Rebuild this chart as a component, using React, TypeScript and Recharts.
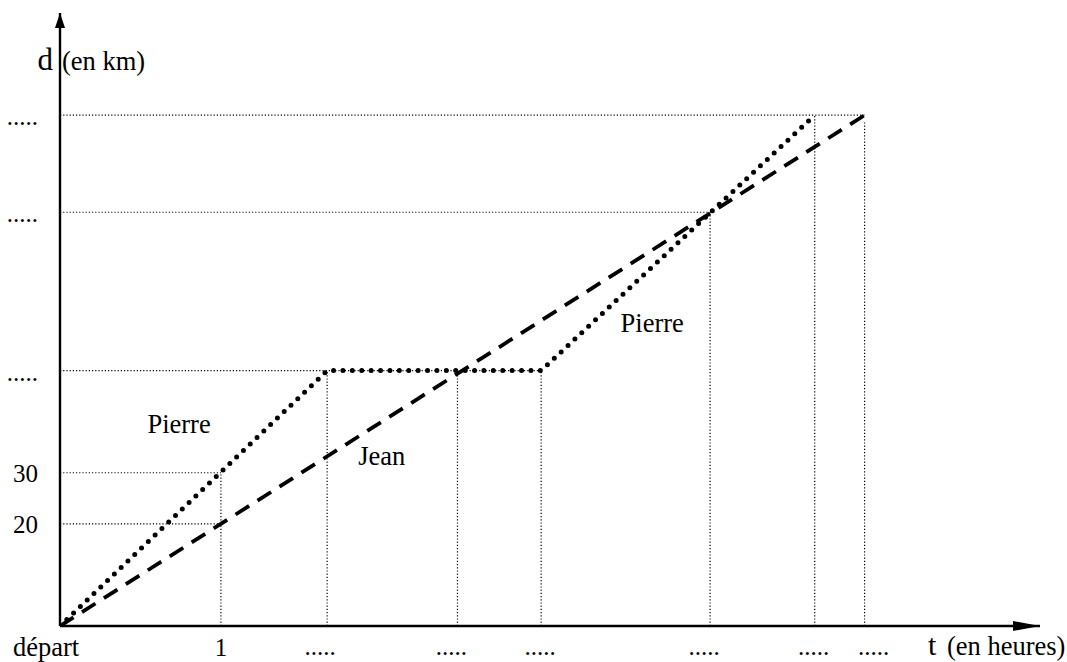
import React from "react";
import { ComposedChart, Line, XAxis, YAxis, ReferenceLine, ReferenceDot } from "recharts";

const FONT = "Liberation Serif, DejaVu Serif, Times New Roman, serif";

// trajets (t en heures, d en km)
const pierreT = [0, 1.66, 2.99, 4.69];
const pierreD = [0, 50, 50, 100];
const jeanT = [0, 5];
const jeanD = [0, 100];

// graduations
const tTicks = [0, 1, 1.66, 2.47, 2.99, 4.04, 4.69, 5];
const tTickLabels = ["départ", "1", ".....", ".....", ".....", ".....", ".....", "....."];
const dTicks = [20, 30, 50, 81, 100];
const dTickLabels = ["20", "30", ".....", ".....", "....."];

// pointillés de lecture : horizontales (d -> jusqu'à t) et verticales (t -> jusqu'à d)
const hGuideD = [20, 30, 50, 81, 100];
const hGuideT = [1, 1, 2.99, 4.04, 5];
const vGuideT = [1, 1.66, 2.47, 2.99, 4.04, 4.69, 5];
const vGuideD = [30, 50, 50, 50, 81, 100, 98.6];

// étiquettes des courbes
const noteText = ["Pierre", "Jean", "Pierre"];
const noteT = [0.74, 2.0, 3.68];
const noteD = [37.8, 31.5, 57.5];

const T_MAX = 6.09;
const D_MAX = 120;

const pierre = pierreT.map((t, i) => ({ t, d: pierreD[i] }));
const jean = jeanT.map((t, i) => ({ t, d: jeanD[i] }));

// petits décalages des étiquettes de l'axe t
const tTickDx = [-14, 0, -7, -6, -1, -6, -1, 9];

const txt = { fontFamily: FONT, fill: "#000" };
const WORD = 26.5;

const TTick = (props: any) => {
   const { x, y, payload } = props;
   const i = tTicks.indexOf(payload.value);
   if (i < 0) return null;
   const label = tTickLabels[i];
   const dots = label === ".....";
   return (
      <text x={x + tTickDx[i]} y={y + (dots ? 29 : 30)} textAnchor="middle" fontSize={i === 0 ? WORD : 25} style={txt} {...txt}>
         {label}
      </text>
   );
};

const DTick = (props: any) => {
   const { x, y, payload } = props;
   const i = dTicks.indexOf(payload.value);
   if (i < 0) return null;
   const label = dTickLabels[i];
   const dots = label === ".....";
   return (
      <text x={x - 22} y={y + (dots ? 10 : 9)} textAnchor="end" fontSize={25} style={txt} {...txt}>
         {label}
      </text>
   );
};

const ArrowX = (props: any) => {
   const { cx, cy } = props;
   return (
      <g>
         <polygon points={`${cx},${cy} ${cx - 27},${cy - 5} ${cx - 27},${cy + 5}`} fill="#000" />
         <text x={cx - 112} y={cy + 29} fontSize={30} style={txt} {...txt}>t</text>
         <text x={cx - 93} y={cy + 29} fontSize={WORD} style={txt} {...txt}>(en heures)</text>
      </g>
   );
};

const ArrowY = (props: any) => {
   const { cx, cy } = props;
   return (
      <g>
         <polygon points={`${cx},${cy} ${cx - 5},${cy + 15} ${cx + 5},${cy + 15}`} fill="#000" />
         <text x={cx - 7} y={cy + 57} textAnchor="end" fontSize={31} style={txt} {...txt}>d</text>
         <text x={cx + 2} y={cy + 57} fontSize={WORD} style={txt} {...txt}>(en km)</text>
      </g>
   );
};

const Note = (label: string) => (props: any) => (
   <text x={props.cx} y={props.cy} textAnchor="middle" fontSize={WORD} style={txt} {...txt}>
      {label}
   </text>
);

const guide = { stroke: "#000", strokeWidth: 1.2, strokeDasharray: "1.2 2" };
const axis = { stroke: "#000", strokeWidth: 2.4 };

export default function App() {
   return (
      <div style={{ position: "absolute", left: 0, top: 0, width: 1067, height: 662, background: "#fff" }}>
         <ComposedChart width={1067} height={662} margin={{ top: 13, right: 27, bottom: 0, left: 0 }}>
            <XAxis
               type="number"
               dataKey="t"
               domain={[0, T_MAX]}
               allowDataOverflow
               ticks={tTicks}
               interval={0}
               height={36}
               tickSize={0}
               tickMargin={0}
               tickLine={false}
               axisLine={false}
               tick={<TTick />}
            />
            <YAxis
               type="number"
               dataKey="d"
               domain={[0, D_MAX]}
               allowDataOverflow
               ticks={dTicks}
               interval={0}
               width={60}
               tickSize={0}
               tickMargin={0}
               tickLine={false}
               axisLine={false}
               tick={<DTick />}
            />
            {hGuideD.map((d, i) => (
               <ReferenceLine key={`h-${i}`} segment={[{ x: 0, y: d }, { x: hGuideT[i], y: d }]} {...guide} />
            ))}
            {vGuideT.map((t, i) => (
               <ReferenceLine key={`v-${i}`} segment={[{ x: t, y: 0 }, { x: t, y: vGuideD[i] }]} {...guide} />
            ))}
            <ReferenceLine segment={[{ x: 0, y: 0 }, { x: T_MAX, y: 0 }]} {...axis} ifOverflow="visible" />
            <ReferenceLine segment={[{ x: 0, y: 0 }, { x: 0, y: D_MAX }]} {...axis} ifOverflow="visible" />
            <Line
               data={jean}
               dataKey="d"
               type="linear"
               stroke="#000"
               strokeWidth={3.8}
               strokeDasharray="16 10"
               dot={false}
               activeDot={false}
               isAnimationActive={false}
            />
            <Line
               data={pierre}
               dataKey="d"
               type="linear"
               stroke="#000"
               strokeWidth={5}
               strokeDasharray="0 9.4"
               strokeLinecap="round"
               dot={false}
               activeDot={false}
               isAnimationActive={false}
            />
            {noteText.map((label, i) => (
               <ReferenceDot key={`n-${i}`} x={noteT[i]} y={noteD[i]} r={0} shape={Note(label)} ifOverflow="visible" />
            ))}
            <ReferenceDot x={T_MAX} y={0} r={0} shape={ArrowX} ifOverflow="visible" />
            <ReferenceDot x={0} y={D_MAX} r={0} shape={ArrowY} ifOverflow="visible" />
         </ComposedChart>
      </div>
   );
}
